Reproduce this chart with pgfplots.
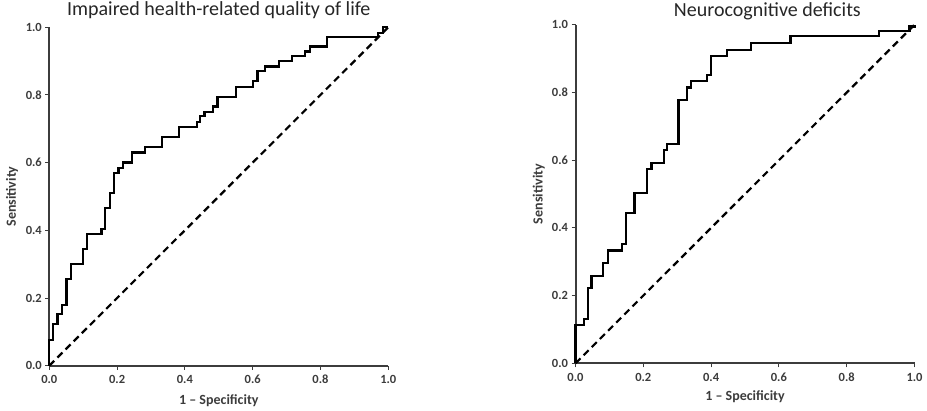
\documentclass[border=0pt]{standalone}
\usepackage{pgfplots}
\pgfplotsset{compat=1.18}
\usepackage{fontspec}
\setmainfont{Carlito}
\definecolor{axgray}{HTML}{3C3C3C}
\pgfplotsset{rocaxis/.style={
  width=339pt, height=338.5pt, scale only axis,
  xmin=0, xmax=1, ymin=0, ymax=1,
  clip=false,
  axis x line*=bottom, axis y line*=left,
  axis line style={axgray, line width=2pt, -},
  xtick={0,0.2,0.4,0.6,0.8,1}, ytick={0,0.2,0.4,0.6,0.8,1},
  tick align=outside, major tick length=4pt,
  tick style={axgray, line width=0.9pt},
  /pgf/number format/fixed, /pgf/number format/fixed zerofill,
  /pgf/number format/precision=1, /pgf/number format/assume math mode=true,
  ticklabel style={font=\bfseries\fontsize{12.5}{12.5}\selectfont, text=axgray},
  xticklabel style={yshift=-2pt},
  xlabel={1 – Specificity}, ylabel={Sensitivity},
  label style={font=\bfseries\fontsize{14}{14}\selectfont, text=axgray},
  title style={font=\fontsize{20}{20}\selectfont, text=black!85},
}}
\begin{document}
\begin{tikzpicture}
\useasboundingbox (0,0) rectangle (927pt,410pt);
\begin{axis}[rocaxis, at={(49.3pt,44.3pt)}, anchor=south west,
  xlabel style={at={(axis description cs:0.5,-0.104)}, anchor=center},
  ylabel style={at={(axis description cs:-0.11,0.5)}, anchor=center},
  title={Impaired health-related quality of life},
  title style={at={(axis description cs:0.5,1)}, anchor=base, yshift=6pt}]
\addplot[black, line width=2.2pt, const plot mark left] coordinates {
(0,0) (0,0.077) (0.010,0.123) (0.024,0.152) (0.037,0.180) (0.051,0.255)
(0.063,0.300) (0.100,0.345) (0.112,0.390) (0.154,0.405) (0.164,0.467)
(0.179,0.510) (0.190,0.570) (0.204,0.585) (0.218,0.600) (0.243,0.630)
(0.282,0.645) (0.333,0.675) (0.383,0.705) (0.435,0.720) (0.444,0.737)
(0.458,0.750) (0.484,0.766) (0.496,0.794) (0.551,0.823) (0.600,0.842)
(0.614,0.870) (0.637,0.884) (0.678,0.899) (0.715,0.914) (0.754,0.928)
(0.769,0.943) (0.818,0.972) (0.970,0.984) (0.985,1.000) (1,1)};
\addplot[black, line width=2.2pt, dash pattern=on 7pt off 4.5pt] coordinates {(0,0) (1,1)};
\end{axis}
\begin{axis}[rocaxis, at={(575.5pt,46.7pt)}, anchor=south west,
  xlabel style={at={(axis description cs:0.5,-0.1)}, anchor=center},
  ylabel style={at={(axis description cs:-0.108,0.5)}, anchor=center},
  title={Neurocognitive deficits},
  title style={at={(axis description cs:0.566,1)}, anchor=base, yshift=2pt}]
\addplot[black, line width=2.2pt, const plot mark left] coordinates {
(0,0) (0,0.113) (0.025,0.130) (0.037,0.222) (0.047,0.259) (0.081,0.296)
(0.095,0.333) (0.137,0.352) (0.150,0.443) (0.174,0.502) (0.211,0.574)
(0.224,0.591) (0.260,0.631) (0.270,0.648) (0.304,0.778) (0.328,0.815)
(0.340,0.834) (0.389,0.852) (0.399,0.908) (0.446,0.926) (0.517,0.946)
(0.634,0.966) (0.895,0.982) (0.985,0.995) (1,1)};
\addplot[black, line width=2.2pt, dash pattern=on 7pt off 4.5pt] coordinates {(0,0) (1,1)};
\end{axis}
\end{tikzpicture}
\end{document}
